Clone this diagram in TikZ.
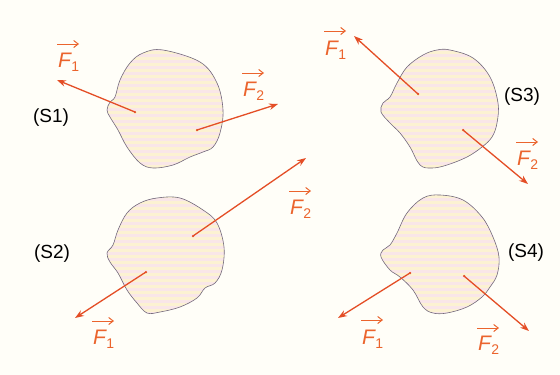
\documentclass[tikz,border=0pt]{standalone}
\usepackage{fontspec}
\setmainfont{Liberation Sans}
\usetikzlibrary{arrows.meta}
\definecolor{bg}{RGB}{255,254,248}
\definecolor{forcecol}{RGB}{228,78,38}
\definecolor{labcol}{RGB}{235,100,45}
\definecolor{blobA}{RGB}{252,242,210}
\definecolor{blobB}{RGB}{249,230,232}
\definecolor{edgecol}{RGB}{115,105,125}
\newcommand\vecF[1]{\itshape F\kern0.3pt\raisebox{-4pt}{\fontsize{14}{14}\selectfont\upshape #1}}
\tikzset{
  force/.style={draw=forcecol, line width=1.3pt, -{Stealth[length=9pt,width=6.5pt]}},
  flabel/.style={text=labcol, font=\fontsize{21}{23}\selectfont, inner sep=0pt, anchor=base west},
  vecarrow/.style={draw=labcol, line width=1pt, -{Straight Barb[length=4.5pt,width=7pt]}},
  slabel/.style={font=\fontsize{19}{21}\selectfont, inner sep=0pt},
  outline/.style={draw=edgecol, line width=0.6pt},
  dotpt/.style={fill=forcecol, circle, inner sep=0pt, minimum size=2.5pt}
}
\newcommand\blobshape[1]{plot[smooth cycle, tension=0.6] coordinates {#1}}
\newcommand\stripedblob[1]{%
  \begin{scope}
    \clip \blobshape{#1};
    \fill[blobA] (0,0) rectangle (560,375);
    \foreach \yy in {0,6,...,375} {\fill[blobB] (0,\yy) rectangle (560,\yy+2.8);}
  \end{scope}
  \path[outline] \blobshape{#1};}
% arrow over a label node
\newcommand\overarrow[2]{\draw[vecarrow] ([shift={(-1,-#2)}]#1.base west) -- ++(22,0);}
\begin{document}
\begin{tikzpicture}[x=1pt,y=-1pt]
\fill[bg] (0,0) rectangle (560,375);
\useasboundingbox (0,0) rectangle (560,375);

% ---------- S1 ----------
\stripedblob{(163,50) (200,62) (217,83) (223,110) (220,133) (213,147) (203,152) (190,157) (173,165) (153,168) (140,163) (127,147) (118,130) (110,117) (107,110) (110,102) (115,97) (120,80) (130,63) (143,53)}
\node[slabel] (s1) at (51,118) {(S1)};
\coordinate (a1) at (135,112);
\coordinate (a1e) at (57,80);
\coordinate (b1) at (197,130);
\coordinate (b1e) at (278,104);
\draw[force] (a1) -- (a1e);
\draw[force] (b1) -- (b1e);
\node[dotpt] at (a1) {};
\node[dotpt] at (b1) {};
\node[flabel] (l11) at (58,67) {\vecF{1}};
\node[flabel] (l12) at (243,96) {\vecF{2}};
\overarrow{l11}{23}
\overarrow{l12}{23}

% ---------- S2 ----------
\stripedblob{(157,198) (180,198) (203,210) (217,223) (224,247) (222,270) (215,283) (205,288) (197,298) (180,307) (160,312) (147,313) (137,303) (127,290) (118,273) (110,262) (107,253) (113,245) (118,230) (127,213) (140,203)}
\node[slabel] (s2) at (52,254) {(S2)};
\coordinate (a2) at (146,272);
\coordinate (a2e) at (75,318);
\coordinate (b2) at (193,236);
\coordinate (b2e) at (306,158);
\draw[force] (a2) -- (a2e);
\draw[force] (b2) -- (b2e);
\node[dotpt] at (a2) {};
\node[dotpt] at (b2) {};
\node[flabel] (l21) at (93,344) {\vecF{1}};
\node[flabel] (l22) at (290,214) {\vecF{2}};
\overarrow{l21}{23}
\overarrow{l22}{23}

% ---------- S3 ----------
\stripedblob{(450,50) (473,58) (490,77) (498,103) (497,123) (492,137) (482,147) (467,157) (447,165) (432,168) (420,165) (410,147) (400,133) (390,123) (381,112) (383,103) (390,97) (397,83) (407,67) (423,55) (437,50)}
\node[slabel] (s3) at (522,97) {(S3)};
\coordinate (a3) at (418,94);
\coordinate (a3e) at (354,36);
\coordinate (b3) at (463,130);
\coordinate (b3e) at (528,184);
\draw[force] (a3) -- (a3e);
\draw[force] (b3) -- (b3e);
\node[dotpt] at (a3) {};
\node[dotpt] at (b3) {};
\node[flabel] (l31) at (325,55) {\vecF{1}};
\node[flabel] (l32) at (517,165) {\vecF{2}};
\overarrow{l31}{24}
\overarrow{l32}{23}

% ---------- S4 ----------
\stripedblob{(440,195) (463,200) (482,217) (493,237) (499,257) (497,275) (490,287) (482,297) (467,307) (447,313) (433,313) (423,307) (413,290) (400,277) (390,270) (381,257) (383,250) (390,245) (397,233) (407,213) (423,198)}
\node[slabel] (s4) at (526,253) {(S4)};
\coordinate (a4) at (410,273);
\coordinate (a4e) at (338,318);
\coordinate (b4) at (464,276);
\coordinate (b4e) at (529,331);
\draw[force] (a4) -- (a4e);
\draw[force] (b4) -- (b4e);
\node[dotpt] at (a4) {};
\node[dotpt] at (b4) {};
\node[flabel] (l41) at (362,344) {\vecF{1}};
\node[flabel] (l42) at (478,350) {\vecF{2}};
\overarrow{l41}{24}
\overarrow{l42}{22}
\end{tikzpicture}
\end{document}
